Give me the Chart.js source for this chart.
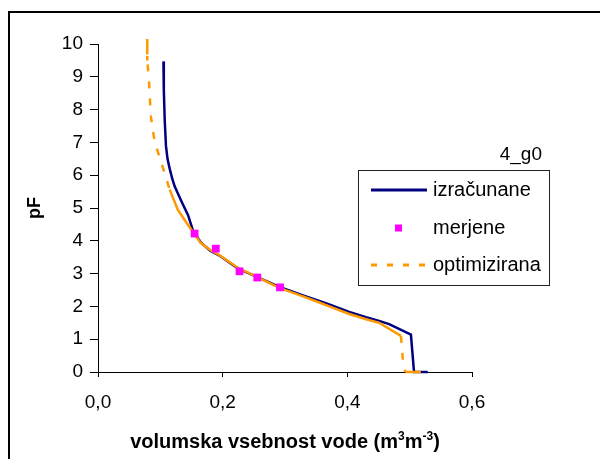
<!DOCTYPE html>
<html>
<head>
<meta charset="utf-8">
<script src="https://cdn.jsdelivr.net/npm/chart.js@4.4.0/dist/chart.umd.min.js"></script>
<style>
  body { margin: 0; background: #fff; }
  #wrap { width: 600px; height: 459px; }
</style>
</head>
<body>
<div id="wrap"><canvas id="retChart" width="600" height="459"></canvas></div>
<script>
// izračunane (calculated curve): water content and pF
const thetaCalc = [0.105, 0.1056, 0.107, 0.109, 0.1115, 0.115, 0.119, 0.123, 0.128, 0.134, 0.1445, 0.1525,
    0.165, 0.18, 0.195, 0.21, 0.225, 0.255, 0.29, 0.33, 0.355, 0.371, 0.403, 0.43, 0.451, 0.467, 0.502, 0.507, 0.529];
const pfCalc = [9.47, 8.6, 7.7, 6.9, 6.5, 6.2, 5.9, 5.66, 5.45, 5.2, 4.78, 4.3,
    3.95, 3.7, 3.55, 3.35, 3.15, 2.9, 2.6, 2.33, 2.17, 2.06, 1.83, 1.67, 1.56, 1.46, 1.14, 0, 0];

// merjene (measured points)
const thetaMeas = [0.155, 0.189, 0.227, 0.2555, 0.292];
const pfMeas = [4.22, 3.76, 3.07, 2.88, 2.58];

// optimizirana (optimised curve)
const thetaOpt = [0.079, 0.079, 0.0816, 0.0832, 0.0848, 0.0896, 0.0928, 0.1035, 0.115, 0.128, 0.142, 0.155,
    0.165, 0.18, 0.195, 0.21, 0.225, 0.255, 0.29, 0.33, 0.355, 0.371, 0.403, 0.43, 0.451, 0.486, 0.489, 0.493, 0.518];
const pfOpt = [10.15, 9.5, 8.95, 8.35, 7.8, 7.17, 6.9, 6.27, 5.56, 4.95, 4.55, 4.2,
    3.93, 3.72, 3.56, 3.36, 3.17, 2.9, 2.57, 2.3, 2.12, 2.0, 1.77, 1.61, 1.5, 1.1, 0.4, 0, 0];

const seriesNames = ["izračunane", "merjene", "optimizirana"];
const sampleName = "4_g0";
const xTitleParts = ["volumska vsebnost vode (m", "3", "m", "-3", ")"];
const yTitle = "pF";

const FONT = "'Liberation Sans', Arial, sans-serif";

function toPoints(xs, ys) {
    return xs.map((x, i) => ({ x: x, y: ys[i] }));
}

// dashed only where the curve is steep, like the original where dense points looked solid
function steepDash(ctx) {
    const dx = Math.abs(ctx.p1.x - ctx.p0.x);
    const dy = Math.abs(ctx.p1.y - ctx.p0.y);
    return dy > 3 * dx ? [7, 10] : [];
}

// frame, legend box and x axis title
const extrasPlugin = {
    id: "extras",
    afterDraw(chart) {
        const c = chart.ctx;
        const ds = chart.data.datasets;
        c.save();

        // outer frame (only left and top edges are in view)
        c.strokeStyle = "#000";
        c.lineWidth = 2;
        c.beginPath();
        c.moveTo(9, 459);
        c.lineTo(9, 12);
        c.lineTo(600, 12);
        c.stroke();

        // sample name above legend
        c.fillStyle = "#000";
        c.font = "19px " + FONT;
        c.textAlign = "right";
        c.textBaseline = "middle";
        c.fillText(sampleName, 542, 155);

        // legend box
        c.lineWidth = 1;
        c.strokeStyle = "#222";
        c.strokeRect(358.5, 170.5, 191, 115);

        const rows = [190, 228, 265];
        c.font = "20px " + FONT;
        c.textAlign = "left";

        // calculated line
        c.strokeStyle = ds[0].borderColor;
        c.lineWidth = 3;
        c.setLineDash([]);
        c.beginPath();
        c.moveTo(371, rows[0]);
        c.lineTo(427, rows[0]);
        c.stroke();

        // measured marker
        c.fillStyle = ds[1].backgroundColor;
        c.fillRect(395, rows[1] - 3.5, 7, 7);

        // optimised dashed line
        c.strokeStyle = ds[2].borderColor;
        c.setLineDash([6, 10]);
        c.beginPath();
        c.moveTo(371, rows[2]);
        c.lineTo(427, rows[2]);
        c.stroke();
        c.setLineDash([]);

        c.fillStyle = "#000";
        seriesNames.forEach((name, i) => c.fillText(name, 433, rows[i]));

        // x axis title with superscripts
        const big = "bold 20px " + FONT;
        const small = "bold 12px " + FONT;
        const widths = xTitleParts.map((t, i) => {
            c.font = (i === 1 || i === 3) ? small : big;
            return c.measureText(t).width;
        });
        const total = widths.reduce((a, b) => a + b, 0);
        let x = (chart.chartArea.left + chart.chartArea.right) / 2 - total / 2;
        c.textAlign = "left";
        c.textBaseline = "alphabetic";
        xTitleParts.forEach((t, i) => {
            const sup = (i === 1 || i === 3);
            c.font = sup ? small : big;
            c.fillText(t, x, sup ? 440 : 448);
            x += widths[i];
        });

        c.restore();
    }
};

const ctx = document.getElementById("retChart").getContext("2d");

const retChart = new Chart(ctx, {
    type: "scatter",
    data: {
        datasets: [
            {
                label: seriesNames[0],
                data: toPoints(thetaCalc, pfCalc),
                showLine: true,
                borderColor: "#000080",
                borderWidth: 2.5,
                pointRadius: 0,
                tension: 0,
                clip: 6,
                order: 3
            },
            {
                label: seriesNames[1],
                data: toPoints(thetaMeas, pfMeas),
                showLine: false,
                backgroundColor: "#FF00FF",
                borderColor: "#FF00FF",
                borderWidth: 0,
                pointStyle: "rect",
                pointRadius: 5.5,
                clip: 6,
                order: 1
            },
            {
                label: seriesNames[2],
                data: toPoints(thetaOpt, pfOpt),
                showLine: true,
                borderColor: "#FF9900",
                borderWidth: 2.5,
                pointRadius: 0,
                tension: 0,
                clip: 6,
                order: 2,
                segment: {
                    borderDash: steepDash
                }
            }
        ]
    },
    options: {
        responsive: false,
        animation: false,
        layout: {
            padding: { left: 0, top: 44, right: 128, bottom: 0 }
        },
        plugins: {
            legend: { display: false },
            tooltip: { enabled: false }
        },
        scales: {
            x: {
                type: "linear",
                min: 0,
                max: 0.6,
                afterFit: scale => { scale.height = 87; },
                border: { display: true, color: "#000", width: 1 },
                grid: { drawOnChartArea: false, drawTicks: true, tickLength: 5, color: "#000" },
                ticks: {
                    stepSize: 0.2,
                    padding: 14,
                    color: "#000",
                    font: { family: FONT, size: 19 },
                    callback: value => value.toFixed(1).replace(".", ",")
                },
                title: { display: false }
            },
            y: {
                type: "linear",
                min: 0,
                max: 10,
                afterFit: scale => { scale.width = 98; },
                border: { display: true, color: "#000", width: 1 },
                grid: { drawOnChartArea: false, drawTicks: true, tickLength: 8, color: "#000" },
                ticks: {
                    stepSize: 1,
                    padding: 7,
                    color: "#000",
                    font: { family: FONT, size: 19 }
                },
                title: {
                    display: true,
                    text: yTitle,
                    color: "#000",
                    font: { family: FONT, size: 18, weight: "bold" },
                    padding: { top: 24, bottom: 0 }
                }
            }
        }
    },
    plugins: [extrasPlugin]
});
</script>
</body>
</html>
